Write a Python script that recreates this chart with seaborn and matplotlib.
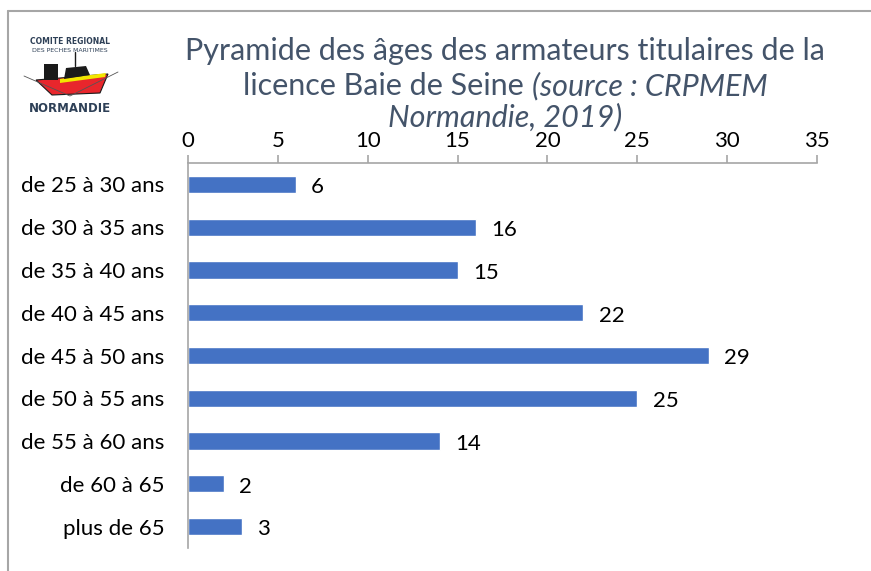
"""
Pyramide des âges des armateurs titulaires de la licence Baie de Seine.
Horizontal bar chart, seaborn.
"""

import matplotlib
matplotlib.use("Agg")
import matplotlib.pyplot as plt
from matplotlib.patches import Polygon, Rectangle
from matplotlib.lines import Line2D
import pandas as pd
import seaborn as sns

# data
age_groups = [
    "de 25 à 30 ans",
    "de 30 à 35 ans",
    "de 35 à 40 ans",
    "de 40 à 45 ans",
    "de 45 à 50 ans",
    "de 50 à 55 ans",
    "de 55 à 60 ans",
    "de 60 à 65",
    "plus de 65",
]
counts = [6, 16, 15, 22, 29, 25, 14, 2, 3]
x_ticks = [0, 5, 10, 15, 20, 25, 30, 35]

BAR_COLOR = "#4472C4"
TITLE_COLOR = "#44546A"
AXIS_COLOR = "#A6A6A6"
FONT = "Lato"
LABEL_SIZE = 16
TITLE_SIZE = 22

sns.set_style("white")
plt.rcParams["font.family"] = [FONT, "DejaVu Sans"]

df = pd.DataFrame({"age": age_groups, "n": counts})

fig = plt.figure(figsize=(8.71, 5.71), dpi=100)
ax = fig.add_axes([0.2158, 0.0403, 0.938 - 0.2158, 0.7145 - 0.0403])

sns.barplot(data=df, x="n", y="age", color=BAR_COLOR, width=0.4,
            saturation=1, orient="h", ax=ax)

ax.set_xlim(0, 35)
ax.set_ylim(len(age_groups) - 0.5, -0.5)
ax.set_xticks(x_ticks)
ax.xaxis.tick_top()
ax.set_xlabel("")
ax.set_ylabel("")

# spines: only top and left, light gray
for side in ["right", "bottom"]:
    ax.spines[side].set_visible(False)
for side in ["top", "left"]:
    ax.spines[side].set_color(AXIS_COLOR)
    ax.spines[side].set_linewidth(1.2)

ax.tick_params(axis="x", which="major", direction="out", length=6,
               color=AXIS_COLOR, width=1.2, labelsize=LABEL_SIZE, pad=3,
               labelcolor="#000000")
ax.tick_params(axis="y", which="major", length=0, labelsize=LABEL_SIZE,
               pad=17, labelcolor="#000000")
# y tick marks sit between the categories
ax.set_yticks([i - 0.5 for i in range(len(age_groups) + 1)], minor=True)
ax.tick_params(axis="y", which="minor", direction="out", length=5,
               color=AXIS_COLOR, width=1.2)

# value labels
for i, v in enumerate(counts):
    ax.annotate(str(v), xy=(v, i), xytext=(11, -2), textcoords="offset points",
                ha="left", va="center", fontsize=LABEL_SIZE, color="#000000")

# title, mixed upright / italic
cx = 0.58
fig.text(cx, 1 - 51 / 571, "Pyramide des âges des armateurs titulaires de la",
         ha="center", va="center", fontsize=TITLE_SIZE, color=TITLE_COLOR)
y2 = 1 - 86 / 571
ta = fig.text(0, y2, "licence Baie de Seine ", ha="left", va="center",
              fontsize=TITLE_SIZE, color=TITLE_COLOR)
tb = fig.text(0, y2, "(source : CRPMEM", ha="left", va="center",
              fontsize=TITLE_SIZE, color=TITLE_COLOR, style="italic")
fig.canvas.draw()
r = fig.canvas.get_renderer()
wa = ta.get_window_extent(r).width / fig.bbox.width
wb = tb.get_window_extent(r).width / fig.bbox.width
x0 = cx - (wa + wb) / 2
ta.set_x(x0)
tb.set_x(x0 + wa)
fig.text(cx, 1 - 117 / 571, "Normandie, 2019)", ha="center", va="center",
         fontsize=TITLE_SIZE, color=TITLE_COLOR, style="italic")

# outer frame (cut at right and bottom like the reference)
fig.add_artist(Line2D([8 / 871, 8 / 871], [0, 1 - 11 / 571],
                      transform=fig.transFigure, color=AXIS_COLOR, lw=1.5))
fig.add_artist(Line2D([8 / 871, 1], [1 - 11 / 571, 1 - 11 / 571],
                      transform=fig.transFigure, color=AXIS_COLOR, lw=1.5))

# logo: text plus a small stylised boat
logo_c = "#2E4057"
fig.text(70 / 871, 1 - 41 / 571, "COMITE REGIONAL", ha="center", va="center",
         fontsize=5.5, color=logo_c, fontweight="bold", family="DejaVu Sans")
fig.text(70 / 871, 1 - 50 / 571, "DES PECHES MARITIMES", ha="center",
         va="center", fontsize=4.5, color=logo_c, family="DejaVu Sans")
fig.text(70 / 871, 1 - 108 / 571, "NORMANDIE", ha="center", va="center",
         fontsize=8.5, color=logo_c, fontweight="bold", family="DejaVu Sans")


def fp(px, py):
    return (px / 871, 1 - py / 571)


hull = Polygon([fp(36, 80), fp(108, 74), fp(100, 93), fp(52, 95)],
               closed=True, transform=fig.transFigure, fc="#E8262C",
               ec="#1A1A1A", lw=0.8)
stripe = Polygon([fp(60, 79), fp(106, 73), fp(105, 77), fp(60, 83)],
                 closed=True, transform=fig.transFigure, fc="#F2E600",
                 ec="none")
cabin = Polygon([fp(64, 79), fp(66, 68), fp(86, 66), fp(90, 75)],
                closed=True, transform=fig.transFigure, fc="#1A1A1A",
                ec="none")
deckhouse = Rectangle(fp(44, 80), 14 / 871, 16 / 571,
                      transform=fig.transFigure, fc="#1A1A1A", ec="none")
mast = Line2D([fp(75, 66)[0], fp(75, 52)[0]], [fp(75, 66)[1], fp(75, 52)[1]],
              transform=fig.transFigure, color="#1A1A1A", lw=1)
arc = Line2D([fp(24, 76)[0], fp(70, 96)[0], fp(118, 72)[0]],
             [fp(24, 76)[1], fp(70, 96)[1], fp(118, 72)[1]],
             transform=fig.transFigure, color="#555555", lw=0.6)
for p in [arc, hull, stripe, cabin, deckhouse, mast]:
    fig.add_artist(p)

fig.savefig("out.png", dpi=100)
